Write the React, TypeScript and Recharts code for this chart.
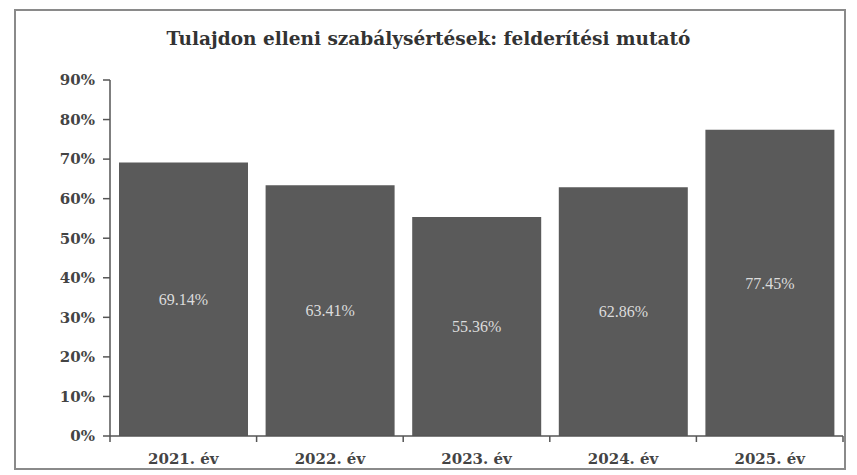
import React from 'react';
import { BarChart, Bar, XAxis, YAxis, LabelList } from 'recharts';

const years = ['2021. év', '2022. év', '2023. év', '2024. év', '2025. év'];
const rates = [69.14, 63.41, 55.36, 62.86, 77.45];
const yTicks = [0, 10, 20, 30, 40, 50, 60, 70, 80, 90];

const data = years.map((year, i) => ({ year, rate: rates[i] }));

const W = 857;
const H = 475;
const M = { top: 80, right: 14, bottom: 0, left: 14 };
const Y_W = 96;
const step = (W - M.left - M.right - Y_W) / years.length;

const serif = '"DejaVu Serif", "Liberation Serif", serif';

// category label plus Excel-style tick marks between categories
const XTick = (props: any) => {
  const { x, y, payload, index } = props;
  const top = y - 8;
  return (
    <g>
      <line x1={x - step / 2} x2={x - step / 2} y1={top} y2={top + 6} stroke="#555" strokeWidth={1.5} />
      {index === years.length - 1 && (
        <line x1={x + step / 2} x2={x + step / 2} y1={top} y2={top + 6} stroke="#555" strokeWidth={1.5} />
      )}
      <text x={x} y={y + 20} textAnchor="middle" fill="#444" fontFamily={serif} fontWeight="bold" fontSize={15}>
        {payload.value}
      </text>
    </g>
  );
};

export default function App() {
  return (
    <div style={{ position: 'absolute', left: 0, top: 0, width: W, height: H, background: '#fff' }}>
      <div
        style={{
          position: 'absolute',
          left: 14,
          top: 9,
          width: 828,
          height: 457,
          border: '2px solid #8a8a8a',
          boxSizing: 'content-box',
        }}
      />
      <div
        style={{
          position: 'absolute',
          left: 0,
          top: 28,
          width: W,
          textAlign: 'center',
          fontFamily: serif,
          fontWeight: 'bold',
          fontSize: 18.5,
          color: '#333',
        }}
      >
        Tulajdon elleni szabálysértések: felderítési mutató
      </div>
      <div style={{ position: 'absolute', left: 0, top: 0 }}>
        <BarChart width={W} height={H} data={data} margin={M} barCategoryGap={9}>
          <XAxis
            dataKey="year"
            height={39}
            axisLine={{ stroke: '#555', strokeWidth: 1.5 }}
            tickLine={false}
            tick={<XTick />}
            interval={0}
          />
          <YAxis
            width={Y_W}
            domain={[0, 90]}
            ticks={yTicks}
            tickFormatter={(v: number) => `${v}%`}
            axisLine={{ stroke: '#555', strokeWidth: 1.5 }}
            tickLine={{ stroke: '#555', strokeWidth: 1.5 }}
            tickSize={7}
            tickMargin={8}
            tick={{ fill: '#444', fontFamily: serif, fontWeight: 'bold', fontSize: 15 }}
          />
          <Bar dataKey="rate" fill="#5a5a5a" isAnimationActive={false}>
            <LabelList
              dataKey="rate"
              position="center"
              fill="#dcdcdc"
              fontFamily='"Liberation Serif", serif'
              fontSize={16}
              formatter={(v: any) => `${Number(v).toFixed(2)}%`}
            />
          </Bar>
        </BarChart>
      </div>
    </div>
  );
}
